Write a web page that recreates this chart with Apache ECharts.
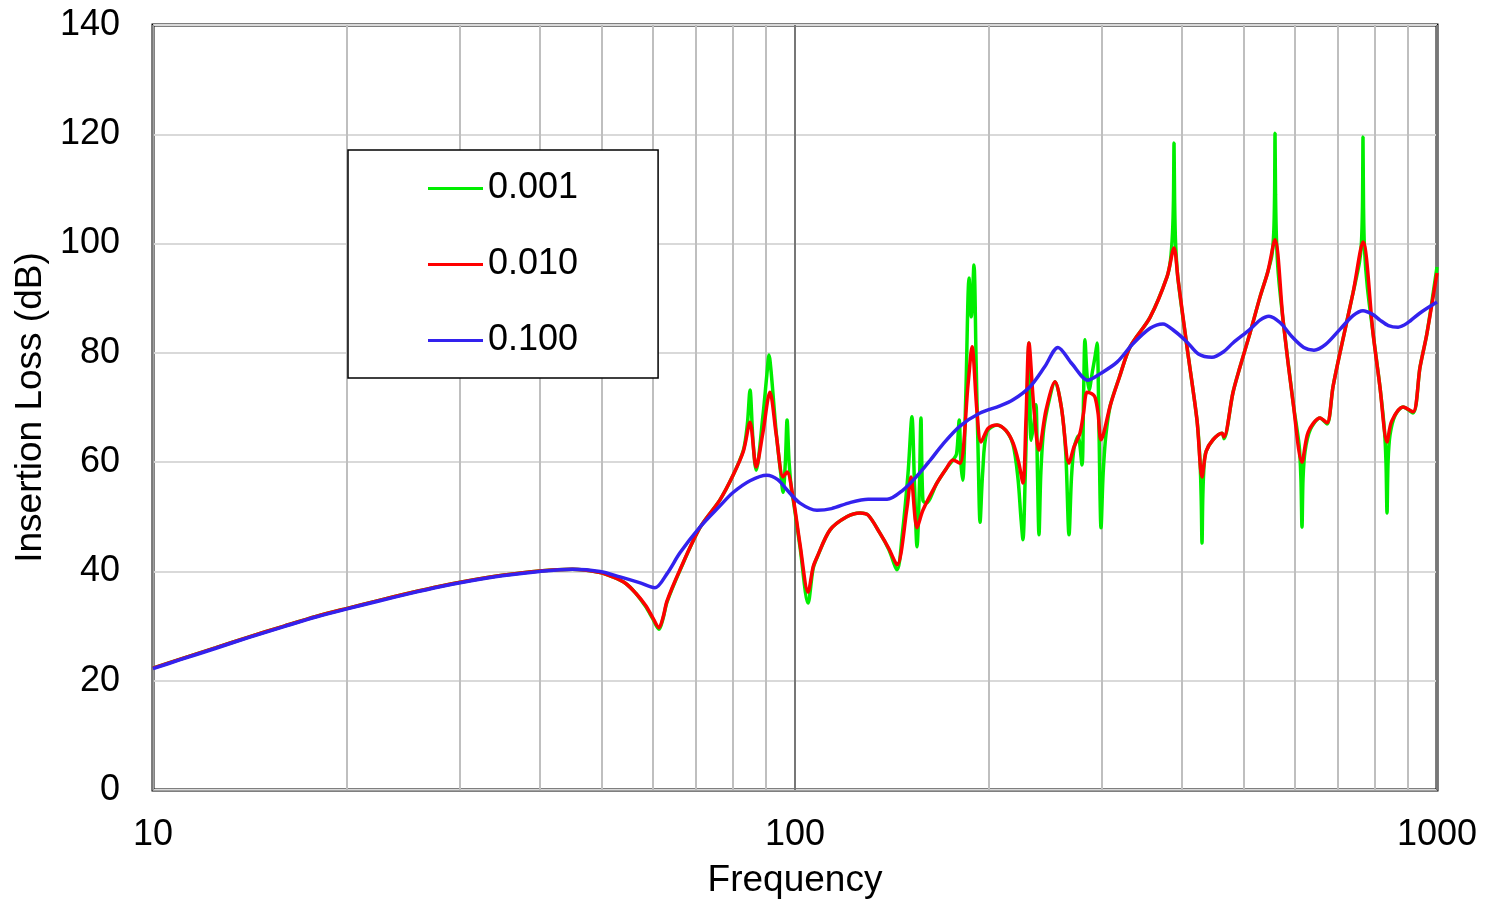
<!DOCTYPE html>
<html>
<head>
<meta charset="utf-8">
<script src="https://cdn.jsdelivr.net/npm/echarts@6/dist/echarts.min.js"></script>
<style>
html,body{margin:0;padding:0;background:#fff;}
#chart{width:1486px;height:901px;}
</style>
</head>
<body>
<div id="chart"></div>
<script>
// Tick / grid values
const xMinorGrid = [20,30,40,50,60,70,80,90,200,300,400,500,600,700,800,900];
const seriesNames = ['0.001','0.010','0.100'];

// Series values: [frequency, insertion loss dB]
const greenPts = [[10,22.3],[11,23.9],[12.5,26.0],[14,27.9],[16,30.0],[18,31.8],[20,33.2],[22.5,34.7],[25,36.0],[28,37.3],[31,38.3],[35,39.3],[40,40.1],[45,40.4],[49.7,39.8],[52,39.0],[54.5,37.8],[56.5,36.0],[58.5,33.6],[60,31.4],[61.4,29.4],[62.3,31.4],[63.2,34.4],[66.2,40.2],[71.1,48.0],[76.4,53.1],[80,57.5],[83.1,62.2],[84.3,67],[85.1,73.2],[86.0,64],[87.0,58.5],[89.1,68.3],[90.4,76],[91.1,79.6],[91.8,76.5],[93.5,65.3],[95.0,58],[95.8,54.5],[96.6,60],[97.2,67.7],[97.9,60],[98.9,54],[99.3,53.3],[101.8,44.5],[104.8,34.2],[106.7,40.5],[108.2,42.5],[113.4,47.6],[120.4,50.0],[126.3,50.7],[130,50.3],[135.6,47.0],[140,44],[144.2,40.3],[147,47],[150,58],[152.1,68.3],[153.5,56],[154.9,44.5],[156.2,55],[157.1,68.1],[158.2,53],[160,52.5],[166.4,56.2],[172,58.8],[176.2,60.4],[178.5,61.5],[180.2,67.7],[181.3,60],[182.5,56.7],[184.5,72],[186.7,93.7],[188.2,86.6],[190.0,96.1],[191.5,78],[193,60],[194.2,49.0],[196,58],[199,65.5],[206.4,66.8],[213,65.8],[218.6,63.2],[222.5,57],[224.8,50],[226.5,45.8],[228.3,57],[229.8,70],[231.4,81.8],[233.2,64],[235.5,67],[237.3,70.5],[238.6,58],[239.9,46.7],[241.5,58],[244,66],[249,71.5],[254.1,74.7],[260,70],[264,62],[267.2,46.7],[269.5,57],[272,62.5],[276,64.8],[279.9,59.5],[281.5,72],[282.9,82.4],[285,76],[287.1,73.2],[290.5,76.5],[293.5,79.5],[295.5,81.8],[297.5,66],[299.7,48.0],[302,58],[305,65],[310,70.5],[320,75.5],[332.6,81.1],[357.3,86.5],[379.7,93.9],[384.5,97],[387.3,102],[388.6,108],[389.4,118.4],[390.2,108],[391.6,100],[395,93.5],[407.9,81.1],[422.8,67.7],[427.5,60],[429.3,53],[430.5,45.2],[431.8,54],[434,60],[437,62],[447.8,64.1],[462.5,65.3],[465.8,64.3],[481.0,72.7],[493.3,77.4],[511.3,83.6],[530.0,90.2],[545,94.8],[553,97.8],[556.8,102],[558.5,109],[559.4,120.2],[560.4,109],[562.2,101],[566,94.5],[575.7,86.0],[597,70.8],[610,63],[613.8,57],[616.2,48.1],[618.5,57],[623,62],[635,66],[657.3,68.1],[674.0,67],[688.7,73.8],[706.1,80.0],[740,91.0],[757,96.5],[762.5,100],[765.5,107],[766.9,119.5],[768.3,107],[771,99],[779,92],[795,83.6],[814.9,73.8],[828,66],[832.8,60],[835.9,50.7],[839,60],[845,65],[860,68.5],[885.2,70.1],[917.6,69.0],[941,77.4],[964.7,83.6],[1000,95.7]];

const redPts = [[10,22.3],[11,23.9],[12.5,26.0],[14,27.9],[16,30.0],[18,31.8],[20,33.2],[22.5,34.7],[25,36.0],[28,37.3],[31,38.3],[35,39.3],[40,40.1],[45,40.4],[49.7,39.8],[52,39.0],[54.5,37.8],[56.5,36.0],[58.5,33.8],[60,31.6],[61.4,29.7],[62.3,31.6],[63.2,34.6],[66.2,40.3],[71.1,48.0],[76.4,53.1],[80,57.5],[83.1,62],[85.1,67.3],[87.0,59.1],[89.1,65.3],[91.4,72.8],[93.5,65],[95.8,57.3],[97.2,58.2],[99.3,53.6],[101.8,45],[104.8,36.2],[106.7,40.8],[108.2,42.6],[113.4,47.6],[120.4,50.0],[126.3,50.7],[130,50.3],[135.6,47.0],[140,44.2],[144.2,41.2],[149.5,51.8],[151.6,57.3],[154.9,48.0],[158.2,51.2],[166.4,56.2],[172,58.8],[176.2,60.4],[180.7,59.8],[186.1,74.5],[188.7,81.1],[192,69.5],[194.9,63.7],[200,66.2],[206.4,66.8],[213,65.8],[218.6,63.5],[223,60],[226.5,56.2],[229,68],[231.4,81.8],[235.5,70],[239.9,62.2],[246,69.5],[254.1,74.7],[260,70],[267.2,59.8],[272,62.8],[277.9,65.3],[281.5,69],[285.0,72.8],[290,72.5],[293.3,71.9],[296.5,69],[299.7,64.1],[310,70.5],[320,75.5],[332.6,81.1],[357.3,86.5],[379.7,93.9],[389.4,99.2],[395,93.5],[407.9,81.1],[422.8,67.7],[430.5,57.3],[437,62],[447.8,64.1],[462.5,65.3],[465.8,64.6],[481,72.7],[493.3,77.4],[511.3,83.6],[530,90.2],[545,94.8],[559.4,100.7],[575.7,86.0],[597,70.8],[616.2,60.0],[630,65.5],[657.3,68.1],[674,67.2],[688.7,73.8],[706.1,80.0],[740,91.0],[766.9,100.3],[795,83.6],[814.9,73.8],[835.9,63.7],[850,67.5],[885.2,70.1],[917.6,69.2],[941,77.4],[964.7,83.6],[1000,94.6]];

const bluePts = [[10,22.2],[11,23.8],[12.5,25.9],[14,27.8],[16,29.9],[18,31.7],[20,33.1],[22.5,34.6],[25,35.9],[28,37.2],[31,38.2],[35,39.2],[40,40.0],[45,40.4],[49.7,40.0],[53.4,39.0],[57.4,37.9],[60.5,37.0],[63.2,39.6],[66.2,43.4],[71.1,48.1],[76.4,52.0],[80,54.4],[85.1,56.6],[90.4,57.6],[94,56.8],[97.2,54.9],[101.8,52.5],[108.2,51.2],[114,51.5],[121.8,52.6],[130,53.2],[139.1,53.2],[147.3,54.9],[155,57.5],[162.3,60.3],[170,63.3],[180.7,66.6],[194.2,69.0],[208.6,70.3],[218.6,71.4],[232.3,73.8],[245,77.5],[256.8,81.0],[270,78],[286,75.0],[299,76.2],[317.4,78.3],[335,81.5],[357.3,84.5],[374.3,85.3],[390,84],[407.9,82],[425,79.8],[446.2,79.2],[465,80.2],[481,81.8],[511.3,84.3],[530,86],[547.4,86.7],[570,85.5],[594,83],[620,81],[643.3,80.5],[670,81.5],[706,84.3],[740,86.8],[766.9,87.7],[795,87],[815,86],[840,85],[869.7,84.7],[900,85.5],[941,87.3],[1000,89.3]];

const chart = echarts.init(document.getElementById('chart'), null, {renderer:'canvas'});
const FONT = '"Liberation Sans", Arial, sans-serif';
const SMOOTH = 0.3;

chart.setOption({
  animation: false,
  backgroundColor: '#fff',
  textStyle: {fontFamily: FONT},
  grid: {left:153, right:49, top:25, bottom:111, show:true, borderColor:'#000', borderWidth:3,
         backgroundColor:'#fff', containLabel:false, outerBoundsMode:'none'},
  legend: {
    data: seriesNames,
    orient: 'vertical',
    left: 348, top: 150,
    padding: [20, 80, 19, 80],
    itemGap: 39,
    itemWidth: 55, itemHeight: 3,
    icon: 'rect',
    backgroundColor: '#fff',
    borderColor: '#000', borderWidth: 1.5,
    textStyle: {fontSize: 36, lineHeight: 37, color: '#000', fontFamily: FONT},
    selectedMode: false
  },
  xAxis: {
    type: 'log', logBase: 10, min: 10, max: 1000,
    name: 'Frequency', nameLocation: 'middle', nameGap: 72,
    nameTextStyle: {fontSize: 37, color: '#000', fontFamily: FONT},
    axisLine: {show: true, lineStyle: {color: '#a0a0a0', width: 1.2}},
    axisTick: {show: false},
    axisLabel: {fontSize: 36, color: '#000', margin: 27, fontFamily: FONT,
                formatter: v => String(Math.round(v))},
    splitLine: {show: true, lineStyle: {color: '#777', width: 2}}
  },
  yAxis: {
    type: 'value', min: 0, max: 140, interval: 20,
    name: 'Insertion Loss (dB)', nameLocation: 'middle', nameGap: 104,
    nameTextStyle: {fontSize: 37, color: '#000', fontFamily: FONT},
    axisLine: {show: true, lineStyle: {color: '#a0a0a0', width: 1.2}},
    axisTick: {show: false},
    axisLabel: {fontSize: 36, color: '#000', margin: 33, fontFamily: FONT},
    splitLine: {show: true, lineStyle: {color: '#d9d9d9', width: 2}}
  },
  series: [
    {
      name: 'grid', type: 'line', data: [], silent: true, z: 1,
      markLine: {
        silent: true, symbol: ['none','none'], z: 1, animation: false,
        label: {show: false},
        lineStyle: {color: '#bfbfbf', width: 2, type: 'solid'},
        emphasis: {disabled: true},
        data: xMinorGrid.map(v => ({xAxis: v}))
      }
    },
    {name: '0.001', type: 'line', data: greenPts, showSymbol: false, smooth: SMOOTH, z: 3,
     lineStyle: {color: '#00ee00', width: 3.5}, itemStyle: {color: '#00ee00'}},
    {name: '0.010', type: 'line', data: redPts, showSymbol: false, smooth: SMOOTH, z: 4,
     lineStyle: {color: '#ff0000', width: 3.5}, itemStyle: {color: '#ff0000'}},
    {name: '0.100', type: 'line', data: bluePts, showSymbol: false, smooth: SMOOTH, z: 5,
     lineStyle: {color: '#3322ee', width: 3.5}, itemStyle: {color: '#3322ee'}}
  ]
});
</script>
</body>
</html>
